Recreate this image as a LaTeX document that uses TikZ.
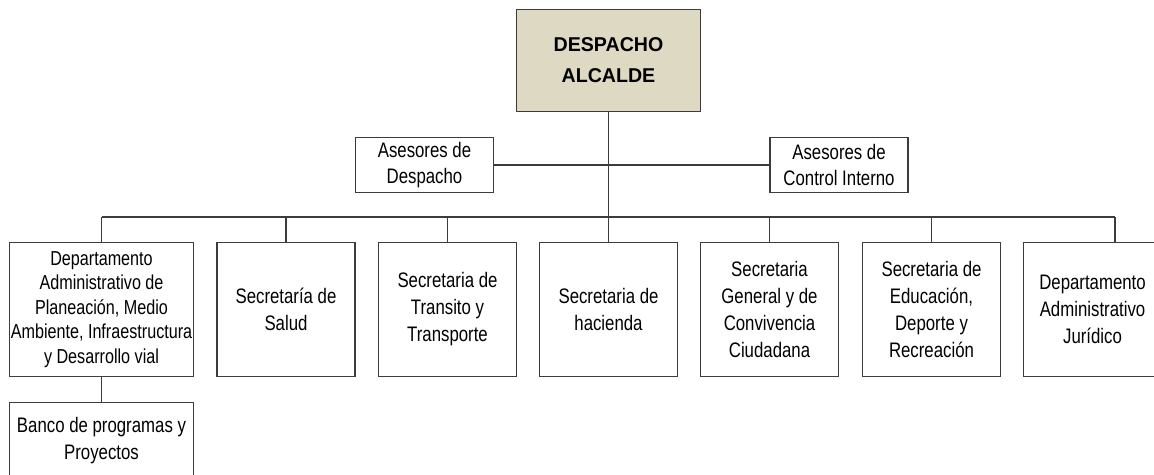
\documentclass[tikz,border=0pt]{standalone}
\usepackage{fontspec}
\setmainfont{Liberation Sans}[FakeStretch=0.8]
\newfontfamily\headfont{Liberation Sans}[FakeStretch=0.98]
\definecolor{alcaldetan}{HTML}{DDD9C3}
\definecolor{framegray}{HTML}{3C3C3C}
\tikzset{
  unitbox/.style={draw=framegray,line width=1.4pt,fill=white,inner sep=0pt,align=center,
    minimum width=138pt,minimum height=134pt,font=\fontsize{21}{27}\selectfont},
  advisorbox/.style={unitbox,minimum height=55pt,font=\fontsize{21}{26.7}\selectfont},
  leadbox/.style={draw=framegray,line width=1.8pt,fill=alcaldetan,inner sep=0pt,align=center,
    minimum width=184pt,minimum height=102pt,font=\headfont\bfseries\fontsize{20}{31}\selectfont},
  link/.style={draw=framegray,line width=1.4pt}
}

\begin{document}
\begin{tikzpicture}[x=1pt,y=-1pt]
  \useasboundingbox (0,0) rectangle (1154,474);
  \node[leadbox] (alcalde) at (608.5,60.5) {DESPACHO\\ALCALDE};
  \node[advisorbox] (asdesp) at (424.5,165) {Asesores de\\Despacho};
  \node[advisorbox] (ascontrol) at (839,165) {Asesores de\\Control Interno};
  % secretarias
  \node[unitbox,minimum width=184pt,font=\fontsize{20.2}{24.5}\selectfont] (dep) at (101.5,309.5)
        {Departamento\\Administrativo de\\Planeación, Medio\\Ambiente, Infraestructura\\y Desarrollo vial};
  \node[unitbox] (salud) at (286,309.5) {Secretaría de\\Salud};
  \node[unitbox] (transito) at (447.5,309.5) {Secretaria de\\Transito y\\Transporte};
  \node[unitbox] (hacienda) at (608.5,309.5) {Secretaria de\\hacienda};
  \node[unitbox] (general) at (769.5,309.5) {Secretaria\\General y de\\Convivencia\\Ciudadana};
  \node[unitbox] (educacion) at (931.5,309.5) {Secretaria de\\Educación,\\Deporte y\\Recreación};
  \node[unitbox] (juridico) at (1092.5,309.5) {Departamento\\Administrativo\\Jurídico};
  \node[unitbox,minimum width=184pt,minimum height=76pt] (banco) at (101.5,440.5) {Banco de programas y\\Proyectos};
  % conectores
  \path (0,217) coordinate (busy);
  \coordinate (busL) at (dep.north |- busy);
  \coordinate (busR) at (1115,217);
  \draw[link] (alcalde.south) -- (hacienda.north);
  \draw[link] (asdesp) -- (ascontrol);
  \draw[link] (busL) -- (busR);
  \foreach \n in {dep,salud,transito,general,educacion}
    \draw[link] (\n.north |- busy) -- (\n.north);
  \draw[link] (busR) -- (busR |- juridico.north);
  \draw[link] (dep.south) -- (banco.north);
\end{tikzpicture}
\end{document}
